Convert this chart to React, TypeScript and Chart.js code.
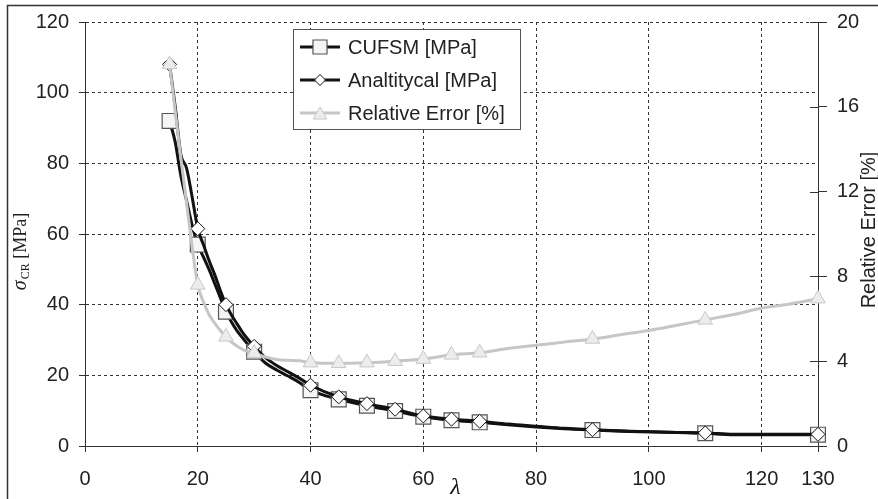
import React, { useEffect, useRef } from "react";
import { Chart, registerables } from "chart.js";

Chart.register(...registerables);

const lambdas = [15, 16, 17, 18, 19, 20, 21, 22, 23, 24, 25, 26, 27, 28, 29, 30, 32, 34, 36, 38, 40, 45, 50, 55, 60, 65, 70, 75, 80, 85, 90, 95, 100, 105, 110, 115, 120, 125, 130];
const cufsm = [92, 86, 76.5, 69.5, 62.5, 57, 53.5, 50, 46, 42, 38, 35, 32.5, 30.5, 28.5, 26.7, 23.5, 21.5, 19.8, 18, 15.8, 13.2, 11.4, 9.9, 8.3, 7.3, 6.7, 6.0, 5.4, 4.9, 4.5, 4.2, 4.0, 3.8, 3.6, 3.2, 3.2, 3.2, 3.2];
const analytical = [108, 96, 82.5, 78.7, 70.5, 61.5, 57, 52.5, 48.5, 44, 40, 37, 34.5, 32, 30, 28.2, 25, 22.8, 21, 19.2, 17.2, 13.9, 12.0, 10.4, 8.5, 7.6, 7.0, 6.2, 5.6, 5.0, 4.6, 4.3, 4.0, 3.85, 3.7, 3.3, 3.3, 3.3, 3.3];
const relErr = [18, 15.8, 13.6, 11.5, 9.4, 7.6, 6.8, 6.2, 5.8, 5.45, 5.15, 4.9, 4.7, 4.55, 4.45, 4.38, 4.2, 4.08, 4.04, 4.02, 3.93, 3.9, 3.93, 4.0, 4.1, 4.3, 4.4, 4.6, 4.75, 4.9, 5.05, 5.25, 5.45, 5.7, 5.95, 6.2, 6.5, 6.7, 6.95];
const markerLambdas = [15, 20, 25, 30, 40, 45, 50, 55, 60, 65, 70, 90, 110, 130];
const xTicks = [0, 20, 40, 60, 80, 100, 120, 130];
const seriesLabels = ["CUFSM [MPa]", "Analtitycal [MPa]", "Relative Error [%]"];

const SANS = '"Liberation Sans", Arial, sans-serif';
const SERIF = '"Liberation Serif", "Times New Roman", serif';
const AXIS = "#333";
const TEXT = "#222";
const TRANSPARENT = "rgba(0,0,0,0)";

const isMarker = (i: number) => markerLambdas.includes(lambdas[i]);
const pts = (vals: number[]) => lambdas.map((x, i) => ({ x, y: vals[i] }));

function drawSquare(ctx: CanvasRenderingContext2D, x: number, y: number, s: number, fill: string, stroke: string) {
  ctx.fillStyle = fill;
  ctx.strokeStyle = stroke;
  ctx.lineWidth = 1.2;
  ctx.beginPath();
  ctx.rect(x - s / 2, y - s / 2, s, s);
  ctx.fill();
  ctx.stroke();
}
function drawDiamond(ctx: CanvasRenderingContext2D, x: number, y: number, r: number, fill: string, stroke: string) {
  ctx.fillStyle = fill;
  ctx.strokeStyle = stroke;
  ctx.lineWidth = 1;
  ctx.beginPath();
  ctx.moveTo(x - r, y);
  ctx.lineTo(x, y - r);
  ctx.lineTo(x + r, y);
  ctx.lineTo(x, y + r);
  ctx.closePath();
  ctx.fill();
  ctx.stroke();
}
function drawTriangle(ctx: CanvasRenderingContext2D, x: number, y: number, r: number, fill: string, stroke: string) {
  ctx.fillStyle = fill;
  ctx.strokeStyle = stroke;
  ctx.lineWidth = 1;
  const h = r * 1.5;
  const w = r * Math.sqrt(3);
  ctx.beginPath();
  ctx.moveTo(x, y - h / 2);
  ctx.lineTo(x + w / 2, y + h / 2);
  ctx.lineTo(x - w / 2, y + h / 2);
  ctx.closePath();
  ctx.fill();
  ctx.stroke();
}

const decorPlugin = {
  id: "decor",
  afterDraw(chart: any) {
    const ctx: CanvasRenderingContext2D = chart.ctx;
    const area = chart.chartArea;
    ctx.save();

    // outer frame (top & left)
    ctx.strokeStyle = "#333";
    ctx.lineWidth = 1.5;
    ctx.beginPath();
    ctx.moveTo(7.5, 499);
    ctx.lineTo(7.5, 5.5);
    ctx.lineTo(878, 5.5);
    ctx.stroke();

    // inner half of the right axis ticks
    const y2 = chart.scales.y2;
    ctx.strokeStyle = AXIS;
    ctx.lineWidth = 1;
    y2.ticks.forEach((t: any) => {
      const py = Math.round(y2.getPixelForValue(t.value)) + 0.5;
      ctx.beginPath();
      ctx.moveTo(area.right - 8, py);
      ctx.lineTo(area.right, py);
      ctx.stroke();
    });

    // legend
    const bx = 293.5, by = 29.5, bw = 227, bh = 100;
    ctx.fillStyle = "#fff";
    ctx.fillRect(bx, by, bw, bh);
    ctx.strokeStyle = "#555";
    ctx.lineWidth = 1;
    ctx.strokeRect(bx, by, bw, bh);
    const rows = [47, 80, 113];
    ctx.font = `20px ${SANS}`;
    ctx.textBaseline = "middle";
    ctx.textAlign = "left";
    rows.forEach((ry, i) => {
      ctx.beginPath();
      ctx.moveTo(300, ry);
      ctx.lineTo(340, ry);
      if (i < 2) {
        ctx.strokeStyle = "#111";
        ctx.lineWidth = 3;
      } else {
        ctx.strokeStyle = "#c6c6c6";
        ctx.lineWidth = 3;
      }
      ctx.stroke();
      if (i === 0) drawSquare(ctx, 320, ry, 14, "#f4f6f4", "#555");
      if (i === 1) drawDiamond(ctx, 320, ry, 5.5, "#fff", "#111");
      if (i === 2) drawTriangle(ctx, 320, ry, 8, "#ececec", "#c8c8c8");
      ctx.fillStyle = TEXT;
      ctx.fillText(seriesLabels[i], 348, ry + 1);
    });

    // left axis title: sigma_CR [MPa]
    ctx.save();
    ctx.translate(20, 252);
    ctx.rotate(-Math.PI / 2);
    ctx.fillStyle = TEXT;
    ctx.textBaseline = "alphabetic";
    const f1 = `italic 20px ${SERIF}`;
    const f2 = `12px ${SERIF}`;
    const f3 = `18px ${SERIF}`;
    ctx.font = f1; const w1 = ctx.measureText("σ").width;
    ctx.font = f2; const w2 = ctx.measureText("CR").width;
    ctx.font = f3; const w3 = ctx.measureText(" [MPa]").width;
    let cx = -(w1 + w2 + w3) / 2;
    ctx.font = f1; ctx.fillText("σ", cx, 6); cx += w1 + 1;
    ctx.font = f2; ctx.fillText("CR", cx, 9); cx += w2;
    ctx.font = f3; ctx.fillText(" [MPa]", cx, 6);
    ctx.restore();

    // right axis title
    ctx.save();
    ctx.translate(869, 230);
    ctx.rotate(-Math.PI / 2);
    ctx.fillStyle = TEXT;
    ctx.font = `20px ${SANS}`;
    ctx.textAlign = "center";
    ctx.textBaseline = "middle";
    ctx.fillText("Relative Error [%]", 0, 0);
    ctx.restore();

    // x axis title
    ctx.fillStyle = "#111";
    ctx.font = `italic 24px ${SERIF}`;
    ctx.textAlign = "center";
    ctx.textBaseline = "middle";
    ctx.fillText("λ", (area.left + area.right) / 2 + 4, 488);

    ctx.restore();
  },
};

export default function App() {
  const ref = useRef<HTMLCanvasElement>(null);
  useEffect(() => {
    const canvas = ref.current as HTMLCanvasElement;
    const tickFont = { family: SANS, size: 20 };
    const chart = new Chart(canvas, {
      type: "line",
      data: {
        datasets: [
          {
            label: seriesLabels[2],
            data: pts(relErr),
            yAxisID: "y2",
            borderColor: "#c6c6c6",
            borderWidth: 3,
            pointStyle: "triangle",
            pointRadius: (c: any) => (isMarker(c.dataIndex) ? 8.5 : 0),
            pointBackgroundColor: "#ececec",
            pointBorderColor: "#c8c8c8",
            pointBorderWidth: 1,
            cubicInterpolationMode: "monotone",
            clip: false,
            order: 1,
          },
          {
            label: seriesLabels[1],
            data: pts(analytical),
            yAxisID: "y",
            borderColor: "#111",
            borderWidth: 3,
            pointStyle: "rectRot",
            pointRadius: (c: any) => (isMarker(c.dataIndex) ? 7 : 0),
            pointBackgroundColor: "#fff",
            pointBorderColor: "#111",
            pointBorderWidth: 1,
            cubicInterpolationMode: "monotone",
            clip: false,
            order: 2,
          },
          {
            label: seriesLabels[0],
            data: pts(cufsm),
            yAxisID: "y",
            borderColor: "#111",
            borderWidth: 3,
            pointStyle: "rect",
            pointRadius: (c: any) => (isMarker(c.dataIndex) ? 10.5 : 0),
            pointBackgroundColor: "#f4f6f4",
            pointBorderColor: "#555",
            pointBorderWidth: 1.2,
            cubicInterpolationMode: "monotone",
            clip: false,
            order: 3,
          },
        ] as any,
      },
      options: {
        responsive: false,
        animation: false,
        events: [],
        layout: { padding: { top: 20, left: 0, right: 0, bottom: 0 } },
        plugins: { legend: { display: false }, tooltip: { enabled: false } },
        scales: {
          x: {
            type: "linear",
            min: 0,
            max: 130,
            afterBuildTicks: (s: any) => {
              s.ticks = xTicks.map((v) => ({ value: v }));
            },
            afterFit: (s: any) => {
              s.height = 53;
            },
            ticks: { autoSkip: false, maxRotation: 0, font: tickFont, color: TEXT, padding: 15 },
            grid: {
              color: (c: any) => (c.tick && (c.tick.value === 0 || c.tick.value === 130) ? TRANSPARENT : AXIS),
              tickColor: AXIS,
              tickLength: 6,
              lineWidth: 1,
            },
            border: { color: AXIS, width: 1, dash: [3, 3] },
          },
          y: {
            position: "left",
            min: 0,
            max: 120,
            afterFit: (s: any) => {
              s.width = 85;
            },
            ticks: { stepSize: 20, font: tickFont, color: TEXT, padding: 10 },
            grid: {
              color: (c: any) => (c.tick && c.tick.value === 0 ? TRANSPARENT : AXIS),
              tickColor: AXIS,
              tickLength: 6,
              lineWidth: 1,
            },
            border: { color: AXIS, width: 1, dash: [3, 3] },
          },
          y2: {
            position: "right",
            min: 0,
            max: 20,
            afterFit: (s: any) => {
              s.width = 60;
            },
            ticks: { stepSize: 4, font: tickFont, color: TEXT, padding: 10 },
            grid: { drawOnChartArea: false, tickColor: AXIS, tickLength: 9, lineWidth: 1 },
            border: { color: AXIS, width: 1 },
          },
        },
      } as any,
      plugins: [decorPlugin],
    });
    return () => chart.destroy();
  }, []);

  return (
    <div style={{ position: "absolute", left: 0, top: 0, width: 878, height: 499, background: "#fff" }}>
      <canvas ref={ref} width={878} height={499} style={{ width: 878, height: 499, display: "block" }} />
    </div>
  );
}
